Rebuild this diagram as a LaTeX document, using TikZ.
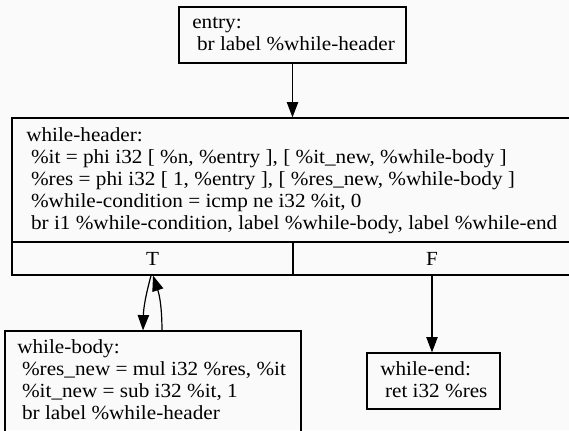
\documentclass[tikz,border=0pt]{standalone}
\usepackage{fontspec}
\setmainfont{Liberation Serif}[FakeStretch=1.06]
\usetikzlibrary{fit,arrows.meta}
\definecolor{bgcol}{RGB}{250,250,250}
\newcommand\ind{\hspace*{3.6pt}}
\begin{document}
\begin{tikzpicture}[x=0.75pt,y=-0.75pt,
  blk/.style={draw=black, line width=0.9pt, inner sep=0pt, rectangle},
  txt/.style={anchor=base west, inner sep=0pt, align=left, font=\fontsize{15pt}{16.5pt}\selectfont},
  lbl/.style={anchor=base, inner sep=0pt, font=\fontsize{15pt}{16.5pt}\selectfont},
  arr/.style={draw=black, line width=0.9pt, -{Triangle[length=11.5pt,width=8.5pt]}}]
\fill[bgcol] (0,0) rectangle (569,430);
\useasboundingbox (0,0) rectangle (569,430);
\clip (0,0) rectangle (569,430);
% boxes
\node[blk, fit={(179,7) (406,63)}] (entry) {};
\node[blk, fit={(12,118) (571,275)}] (hdr) {};
\node[blk, fit={(12,242) (293,275)}] (hT) {};
\node[blk, fit={(293,242) (571,275)}] (hF) {};
\node[blk, fit={(5,331) (301,432)}] (body) {};
\node[blk, fit={(367,353) (500,409)}] (wend) {};
% texts (anchored at the baseline of the last line)
\node[txt] (entrytxt) at (192,50) {entry:\\\ind br label \%while-header};
\node[txt] (hdrtxt) at (26,229) {while-header:\\
\ind\%it = phi i32 [ \%n, \%entry ], [ \%it\_new, \%while-body ]\\
\ind\%res = phi i32 [ 1, \%entry ], [ \%res\_new, \%while-body ]\\
\ind\%while-condition = icmp ne i32 \%it, 0\\
\ind br i1 \%while-condition, label \%while-body, label \%while-end};
\node[lbl] (Tlbl) at (152.5,265) {T};
\node[lbl] (Flbl) at (432,265) {F};
\node[txt] (bodytxt) at (17,419) {while-body:\\
\ind\%res\_new = mul i32 \%res, \%it\\
\ind\%it\_new = sub i32 \%it, 1\\
\ind br label \%while-header};
\node[txt] (wendtxt) at (380,397) {while-end:\\\ind ret i32 \%res};
% edges
\draw[arr] (entry.south) -- (entry.south |- hdr.north);
\draw[arr] (hF.south) -- (hF.south |- wend.north);
\draw[arr] ([xshift=-1.1pt]hT.south) to[bend right=7] ([xshift=-7.5pt]body.north);
\draw[arr] ([xshift=6.75pt]body.north) to[bend right=9] ([xshift=0.4pt]hT.south);
\end{tikzpicture}
\end{document}
